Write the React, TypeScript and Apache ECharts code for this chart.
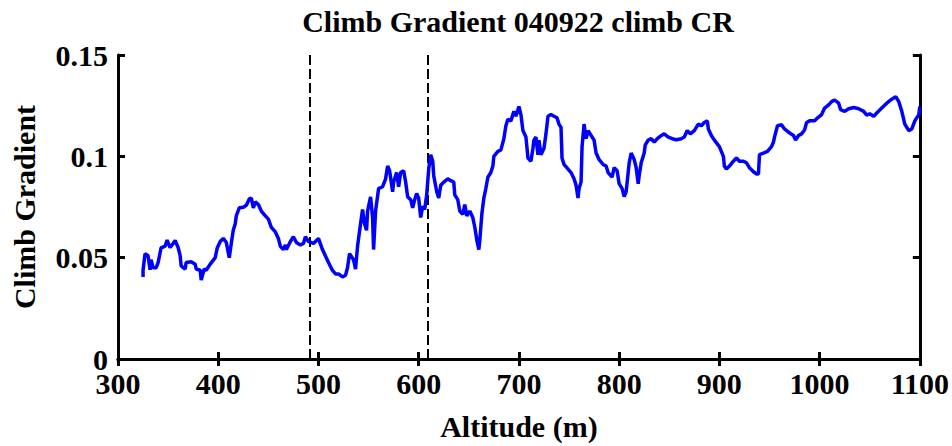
import React, { useEffect, useRef } from "react";
import * as echarts from "echarts";

// Altitude samples (m) along the climb
const altitudeM = [
  325, 325, 327, 330, 332, 333, 335, 338, 340, 343, 347, 349, 352, 355, 357, 360, 362, 363, 367, 368,
  373, 377, 378, 382, 383, 386, 388, 392, 397, 399, 402, 405, 408, 411, 413, 415, 417, 418, 421, 425,
  428, 431, 433, 435, 437, 440, 443, 447, 450, 453, 457, 460, 462, 465, 467, 468, 472, 475, 478, 482,
  485, 487, 490, 495,
  500, 504, 507, 510, 514, 517, 520, 524, 527, 529, 531, 535, 537, 539, 542, 544, 546, 548, 549, 552,
  554, 555, 557, 560, 564, 567, 569, 571, 574, 575, 578, 580, 582, 585, 587, 589, 592, 594, 596, 598,
  600, 602, 604, 606, 608, 610, 612, 614, 615, 618, 620, 622, 625, 629, 632, 635, 636, 639, 641, 644,
  646, 648, 651, 654, 656, 658, 660, 661, 663, 665, 667, 669, 672, 674, 675, 679,
  682, 685, 687, 689, 692, 695, 697, 700, 702, 704, 707, 709, 712, 714, 715, 717, 719, 720, 722, 725,
  727, 729, 732, 735, 738, 740, 742, 743, 745, 749, 752, 755, 757, 759, 760, 762, 763, 765, 767, 769,
  772, 775, 777, 780, 784, 787, 789, 793, 795, 798, 800, 803, 805, 807, 809, 810, 812, 815, 817, 819,
  820, 822, 825, 826, 829, 832, 835, 838, 841, 845, 849, 853, 857, 862, 865, 868, 871, 875,
  879, 882, 885, 888, 889, 892, 895, 900, 904, 905, 907, 910, 914, 917, 920, 924, 927, 930, 934, 937,
  939, 940, 944, 948, 952, 954, 955, 958, 962, 965, 969, 974, 976, 979, 982, 985, 987, 990, 995, 998,
  1002, 1005, 1009, 1012, 1015, 1019, 1021, 1025, 1029, 1034, 1039, 1044, 1047, 1050, 1054, 1057, 1062,
  1067, 1072, 1076, 1079, 1082, 1085, 1089, 1092, 1095, 1099, 1100,
];

// Climb gradient at each altitude sample
const climbGradient = [
  0.0405, 0.0438, 0.052, 0.051, 0.044, 0.049, 0.045, 0.045, 0.0476, 0.0548, 0.0557, 0.0587, 0.055, 0.057,
  0.0585, 0.055, 0.051, 0.046, 0.0444, 0.0476, 0.048, 0.0468, 0.0444, 0.0438, 0.039, 0.0444, 0.0438,
  0.0468, 0.05, 0.0548, 0.058, 0.0595, 0.0576, 0.05, 0.057, 0.0635, 0.0667, 0.0706, 0.0746, 0.0749,
  0.0759, 0.079, 0.0794, 0.0746, 0.0775, 0.0762, 0.073, 0.0706, 0.069, 0.065, 0.0627, 0.0595, 0.0556,
  0.054, 0.0563, 0.054, 0.058, 0.0603, 0.0575, 0.0563, 0.057, 0.0603, 0.058, 0.057,
  0.0595, 0.054, 0.0508, 0.0476, 0.0437, 0.042, 0.042, 0.0405, 0.0413, 0.045, 0.052, 0.049, 0.0444,
  0.0556, 0.0667, 0.0738, 0.0667, 0.0635, 0.073, 0.08, 0.0698, 0.054, 0.073, 0.0841, 0.085, 0.0889,
  0.0952, 0.0929, 0.0825, 0.0873, 0.092, 0.085, 0.092, 0.0929, 0.0873, 0.08, 0.0786, 0.0746, 0.0786,
  0.0817, 0.0794, 0.0698, 0.0754, 0.0738, 0.081, 0.0937, 0.1008, 0.0976, 0.0905, 0.0825, 0.0794,
  0.0857, 0.0873, 0.0889, 0.088, 0.0873, 0.081, 0.0786, 0.073, 0.0714, 0.0762, 0.0706, 0.073, 0.0698,
  0.065, 0.0587, 0.054, 0.0587, 0.0714, 0.0794, 0.0841, 0.0897, 0.092, 0.0952, 0.1, 0.1024,
  0.1032, 0.1087, 0.1151, 0.1183, 0.1175, 0.1222, 0.1198, 0.1246, 0.1206, 0.1127, 0.1095, 0.0992,
  0.0976, 0.104, 0.108, 0.1095, 0.1008, 0.108, 0.1008, 0.104, 0.1111, 0.1198, 0.1206, 0.1198, 0.119,
  0.1159, 0.1143, 0.0992, 0.096, 0.0937, 0.092, 0.0889, 0.0857, 0.0794, 0.0841, 0.0873, 0.1048,
  0.1159, 0.1087, 0.1127, 0.1103, 0.108, 0.1016, 0.0984, 0.096, 0.0952, 0.092, 0.0897, 0.0944, 0.0929,
  0.0865, 0.0841, 0.0802, 0.0825, 0.092, 0.0968, 0.1016, 0.0984, 0.0944, 0.0865, 0.0905, 0.0968,
  0.1016, 0.1056, 0.108, 0.1087, 0.1071, 0.1087, 0.1099, 0.1111, 0.1095, 0.1087, 0.1082, 0.1087,
  0.1095, 0.1127, 0.1111, 0.1127,
  0.1159, 0.1151, 0.1167, 0.1175, 0.1135, 0.1103, 0.108, 0.1048, 0.1, 0.0952, 0.0937, 0.0952, 0.0976,
  0.0992, 0.0976, 0.0976, 0.0968, 0.0944, 0.0924, 0.0913, 0.0913, 0.1008, 0.1016, 0.1024, 0.1048,
  0.1071, 0.1095, 0.1151, 0.1156, 0.1135, 0.1119, 0.1103, 0.108, 0.1103, 0.1111, 0.113, 0.1167,
  0.1175, 0.1175, 0.119, 0.1206, 0.1238, 0.1254, 0.127, 0.1278, 0.1262, 0.123, 0.1222, 0.1235,
  0.1241, 0.1235, 0.1222, 0.1203, 0.121, 0.1198, 0.1214, 0.1238, 0.1262, 0.1282, 0.1294, 0.127,
  0.1222, 0.1159, 0.1127, 0.1135, 0.1175, 0.1206, 0.1246,
];

// Dashed reference altitudes (m)
const markerAltitudes = [491, 609];

// Axis tick labels
const xTickValues = [300, 400, 500, 600, 700, 800, 900, 1000, 1100];
const xTickLabels = ["300", "400", "500", "600", "700", "800", "900", "1000", "1100"];
const yTickValues = [0, 0.05, 0.1, 0.15];
const yTickLabels = ["0", "0.05", "0.1", "0.15"];

const FONT = "'Liberation Serif', 'Times New Roman', serif";

const textStyle = {
  fontFamily: FONT,
  fontWeight: "bold" as const,
  fontSize: 30,
  color: "#000",
};

const tickStyle = {
  show: true,
  inside: true,
  length: 7,
  lineStyle: { color: "#000", width: 3 },
};

const lineStyle = { show: true, lineStyle: { color: "#000", width: 3 } };

const lookup = (values: number[], labels: string[]) => (v: number) => {
  const idx = values.findIndex((t) => Math.abs(t - v) < 1e-9);
  return idx >= 0 ? labels[idx] : "";
};

export default function App() {
  const ref = useRef<HTMLDivElement>(null);

  useEffect(() => {
    if (!ref.current) return;
    const chart = echarts.init(ref.current, undefined, { renderer: "svg" });

    const points = altitudeM.map((a, i) => [a, climbGradient[i]]);

    chart.setOption({
      animation: false,
      backgroundColor: "#fff",
      title: {
        text: "Climb Gradient 040922 climb CR",
        left: 513,
        textAlign: "center",
        top: 1,
        textStyle: { ...textStyle, fontSize: 30 },
      },
      grid: { left: 118, right: 32, top: 55, bottom: 74, containLabel: false },
      xAxis: [
        {
          type: "value",
          min: 300,
          max: 1100,
          interval: 100,
          position: "bottom",
          axisLine: lineStyle,
          axisTick: tickStyle,
          splitLine: { show: false },
          axisLabel: {
            ...textStyle,
            margin: 15,
            lineHeight: 18,
            formatter: lookup(xTickValues, xTickLabels),
          },
          name: "Altitude (m)",
          nameLocation: "middle",
          nameGap: 52,
          nameTextStyle: textStyle,
        },
        {
          type: "value",
          min: 300,
          max: 1100,
          interval: 100,
          position: "top",
          axisLine: lineStyle,
          axisTick: tickStyle,
          splitLine: { show: false },
          axisLabel: { show: false },
        },
      ],
      yAxis: [
        {
          type: "value",
          min: 0,
          max: 0.15,
          interval: 0.05,
          position: "left",
          axisLine: lineStyle,
          axisTick: tickStyle,
          splitLine: { show: false },
          axisLabel: {
            ...textStyle,
            margin: 10,
            lineHeight: 18,
            formatter: lookup(yTickValues, yTickLabels),
          },
          name: "Climb Gradient",
          nameLocation: "middle",
          nameGap: 79,
          nameTextStyle: textStyle,
        },
        {
          type: "value",
          min: 0,
          max: 0.15,
          interval: 0.05,
          position: "right",
          axisLine: lineStyle,
          axisTick: tickStyle,
          splitLine: { show: false },
          axisLabel: { show: false },
        },
      ],
      series: [
        {
          type: "line",
          data: points,
          xAxisIndex: 0,
          yAxisIndex: 0,
          showSymbol: false,
          symbol: "none",
          lineStyle: { color: "#0000ff", width: 3.5 },
          z: 3,
          markLine: {
            silent: true,
            symbol: ["none", "none"],
            label: { show: false },
            lineStyle: { color: "#000", width: 2, type: [10, 4] },
            data: markerAltitudes.map((a) => ({ xAxis: a })),
            z: 2,
          },
        },
      ],
    });

    return () => chart.dispose();
  }, []);

  return (
    <div
      ref={ref}
      style={{ position: "absolute", left: 0, top: 0, width: 952, height: 446 }}
    />
  );
}
